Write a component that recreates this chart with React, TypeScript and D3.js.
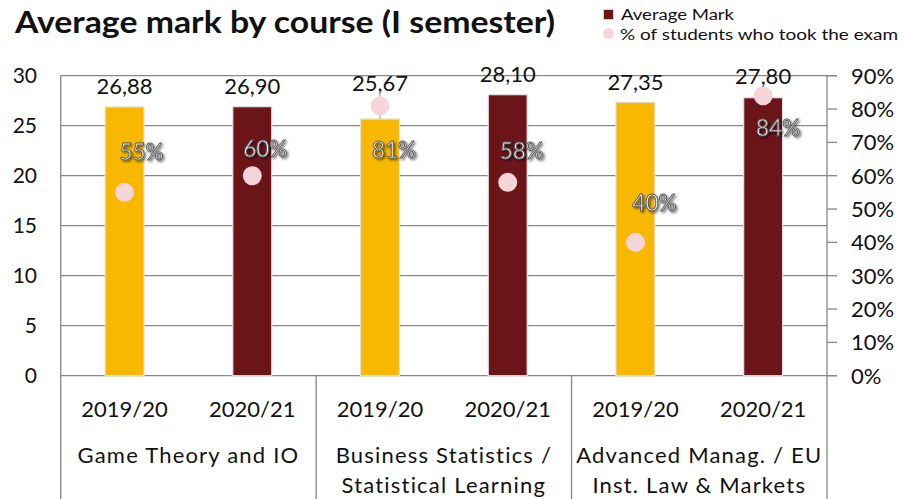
import React from "react";
import * as d3 from "d3";

// ---------- data ----------
const courses = ["GT", "BS", "AM"];
const courseLabels: string[][] = [
  ["Game Theory and IO"],
  ["Business Statistics /", "Statistical Learning"],
  ["Advanced Manag. / EU", "Inst. Law & Markets"],
];
const years = ["2019/20", "2020/21"];
const avgMark = [26.88, 26.9, 25.67, 28.1, 27.35, 27.8];
const pctTook = [0.55, 0.6, 0.81, 0.58, 0.4, 0.84];
const leftTicks = [0, 5, 10, 15, 20, 25, 30];
const rightTicks = [0, 0.1, 0.2, 0.3, 0.4, 0.5, 0.6, 0.7, 0.8, 0.9];

// ---------- layout (manual label placement as in the source) ----------
const pctLabelOffset = [
  [17, -32],
  [13, -19],
  [14, 52],
  [14, -23],
  [19, -31],
  [15, 40],
];
const valueLabelLift = [13, 13, 28, 13, 12, 14];

const W = 908;
const H = 499;
const plotL = 60.7;
const plotR = 827;
const plotT = 75.7;
const plotB = 375.7;

const yearColor = ["#F9B800", "#6B1519"];
const dotColor = "#F6D5D8";
const gridColor = "#878787";
const font = "Lato, 'Open Sans', sans-serif";

const fmt = (v: number) => v.toFixed(2).replace(".", ",");

export default function App() {
  const xCourse = d3.scaleBand<string>().domain(courses).range([plotL, plotR]).padding(0);
  const xYear = d3
    .scaleBand<string>()
    .domain(years)
    .range([0, xCourse.bandwidth()])
    .paddingInner(0.695)
    .paddingOuter(0.3475);
  const yL = d3.scaleLinear().domain([0, 30]).range([plotB, plotT]);
  const yR = d3.scaleLinear().domain([0, 0.9]).range([plotB, plotT]);
  const pctFmt = d3.format(".0%");

  const items = avgMark.map((v, i) => {
    const c = courses[Math.floor(i / years.length)];
    const yr = years[i % years.length];
    const x0 = (xCourse(c) as number) + (xYear(yr) as number);
    return {
      i,
      v,
      p: pctTook[i],
      x0,
      cx: x0 + xYear.bandwidth() / 2,
      color: yearColor[i % years.length],
    };
  });

  return (
    <svg
      width={W}
      height={H}
      style={{ position: "absolute", left: 0, top: 0, background: "#fff" }}
      fontFamily={font}
    >
      <defs>
        <filter id="shadow" x="-20%" y="-20%" width="150%" height="150%">
          <feDropShadow dx="1.6" dy="1.6" stdDeviation="1" floodColor="#000" floodOpacity="0.55" />
        </filter>
      </defs>

      {/* title */}
      <text
        x={15}
        y={33}
        fontSize={30}
        fontWeight={700}
        fill="#111"
        textLength={540}
        lengthAdjust="spacingAndGlyphs"
      >
        Average mark by course (I semester)
      </text>

      {/* legend */}
      <rect x={603.5} y={9.5} width={10} height={10} fill="#6B1519" stroke="#d0d0d0" strokeWidth={1} />
      <text x={621} y={19.5} fontSize={15.5} fill="#111" textLength={113} lengthAdjust="spacingAndGlyphs">
        Average Mark
      </text>
      <circle cx={608.5} cy={33.5} r={5.5} fill={dotColor} />
      <text x={620} y={39.5} fontSize={15.5} fill="#111" textLength={278} lengthAdjust="spacingAndGlyphs">
        % of students who took the exam
      </text>

      {/* gridlines */}
      {leftTicks.map((t) => (
        <line
          key={"g" + t}
          x1={plotL}
          x2={t === 30 || t === 0 ? plotR + 10 : plotR}
          y1={yL(t)}
          y2={yL(t)}
          stroke={gridColor}
          strokeWidth={1.3}
        />
      ))}
      {/* left axis labels */}
      {leftTicks.map((t) => (
        <text key={"l" + t} x={37} y={yL(t) + 7.5} fontSize={21} textAnchor="end" fill="#111">
          {t}
        </text>
      ))}
      {/* right axis */}
      <line x1={plotR} x2={plotR} y1={plotT} y2={H} stroke={gridColor} strokeWidth={1.3} />
      {rightTicks.map((t) => (
        <g key={"r" + t}>
          <line x1={plotR} x2={plotR + 10} y1={yR(t)} y2={yR(t)} stroke={gridColor} strokeWidth={1.3} />
          <text x={851} y={yR(t) + 8} fontSize={22} fill="#111">
            {pctFmt(t)}
          </text>
        </g>
      ))}
      {/* left axis line and group separators */}
      <line x1={plotL} x2={plotL} y1={plotT} y2={H} stroke={gridColor} strokeWidth={1.3} />
      {courses.slice(1).map((c) => (
        <line
          key={"s" + c}
          x1={xCourse(c) as number}
          x2={xCourse(c) as number}
          y1={plotB}
          y2={H}
          stroke={gridColor}
          strokeWidth={1.3}
        />
      ))}

      {/* bars */}
      {items.map((d) => (
        <rect
          key={"b" + d.i}
          x={d.x0}
          y={yL(d.v)}
          width={xYear.bandwidth()}
          height={plotB - yL(d.v)}
          fill={d.color}
          stroke="#e2e2e2"
          strokeWidth={1.2}
        />
      ))}

      {/* leader line for the moved label */}
      {items
        .filter((d) => valueLabelLift[d.i] > 20)
        .map((d) => (
          <line
            key={"ll" + d.i}
            x1={d.cx}
            x2={d.cx}
            y1={yL(d.v) - valueLabelLift[d.i] + 3}
            y2={yL(d.v)}
            stroke="#9a9a9a"
            strokeWidth={1}
          />
        ))}

      {/* dots */}
      {items.map((d) => (
        <circle key={"c" + d.i} cx={d.cx} cy={yR(d.p)} r={9.5} fill={dotColor} />
      ))}

      {/* value labels */}
      {items.map((d) => (
        <text
          key={"v" + d.i}
          x={d.cx}
          y={yL(d.v) - valueLabelLift[d.i]}
          fontSize={22}
          textAnchor="middle"
          fill="#111"
        >
          {fmt(d.v)}
        </text>
      ))}

      {/* percentage labels */}
      {items.map((d) => (
        <text
          key={"p" + d.i}
          x={d.cx + pctLabelOffset[d.i][0]}
          y={yR(d.p) + pctLabelOffset[d.i][1]}
          fontSize={22.5}
          textAnchor="middle"
          fill="#f4f4f4"
          stroke="#555"
          strokeWidth={0.9}
          filter="url(#shadow)"
        >
          {pctFmt(d.p)}
        </text>
      ))}

      {/* x axis: years */}
      {items.map((d) => (
        <text key={"y" + d.i} x={d.cx} y={416.7} fontSize={22} textAnchor="middle" fill="#111">
          {years[d.i % years.length]}
        </text>
      ))}
      {/* x axis: courses */}
      {courses.map((c, ci) => (
        <text
          key={"cl" + c}
          x={(xCourse(c) as number) + xCourse.bandwidth() / 2}
          y={463.3}
          fontSize={22}
          letterSpacing={1.2}
          textAnchor="middle"
          fill="#111"
        >
          {courseLabels[ci].map((line, li) => (
            <tspan key={li} x={(xCourse(c) as number) + xCourse.bandwidth() / 2} dy={li === 0 ? 0 : 30}>
              {line}
            </tspan>
          ))}
        </text>
      ))}
    </svg>
  );
}
